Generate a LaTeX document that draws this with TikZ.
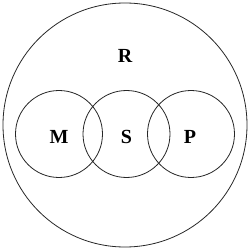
\documentclass[tikz,border=0pt]{standalone}
\usepackage{fontspec}
\setmainfont{Liberation Serif}
\begin{document}
\begin{tikzpicture}[x=1pt,y=1pt,
  ring/.style={draw=black!85,line width=0.8pt,circle,minimum size=#1,inner sep=0pt},
  lab/.style={font=\fontsize{20}{22}\selectfont\bfseries,inner sep=0pt}]
\useasboundingbox (0,0) rectangle (250,250);
\node[ring=244pt] (R) at (125,125) {};
\node[ring=87pt] (Mc) at (59,116) {};
\node[ring=87pt] (Sc) at (126.5,116) {};
\node[ring=87pt] (Pc) at (191,116) {};
\node[lab] (Rl) at (125,194) {R};
\node[lab] (Ml) at (59,113.5) {M};
\node[lab] (Sl) at (126.5,113.5) {S};
\node[lab] (Pl) at (190,113.5) {P};
\end{tikzpicture}
\end{document}
